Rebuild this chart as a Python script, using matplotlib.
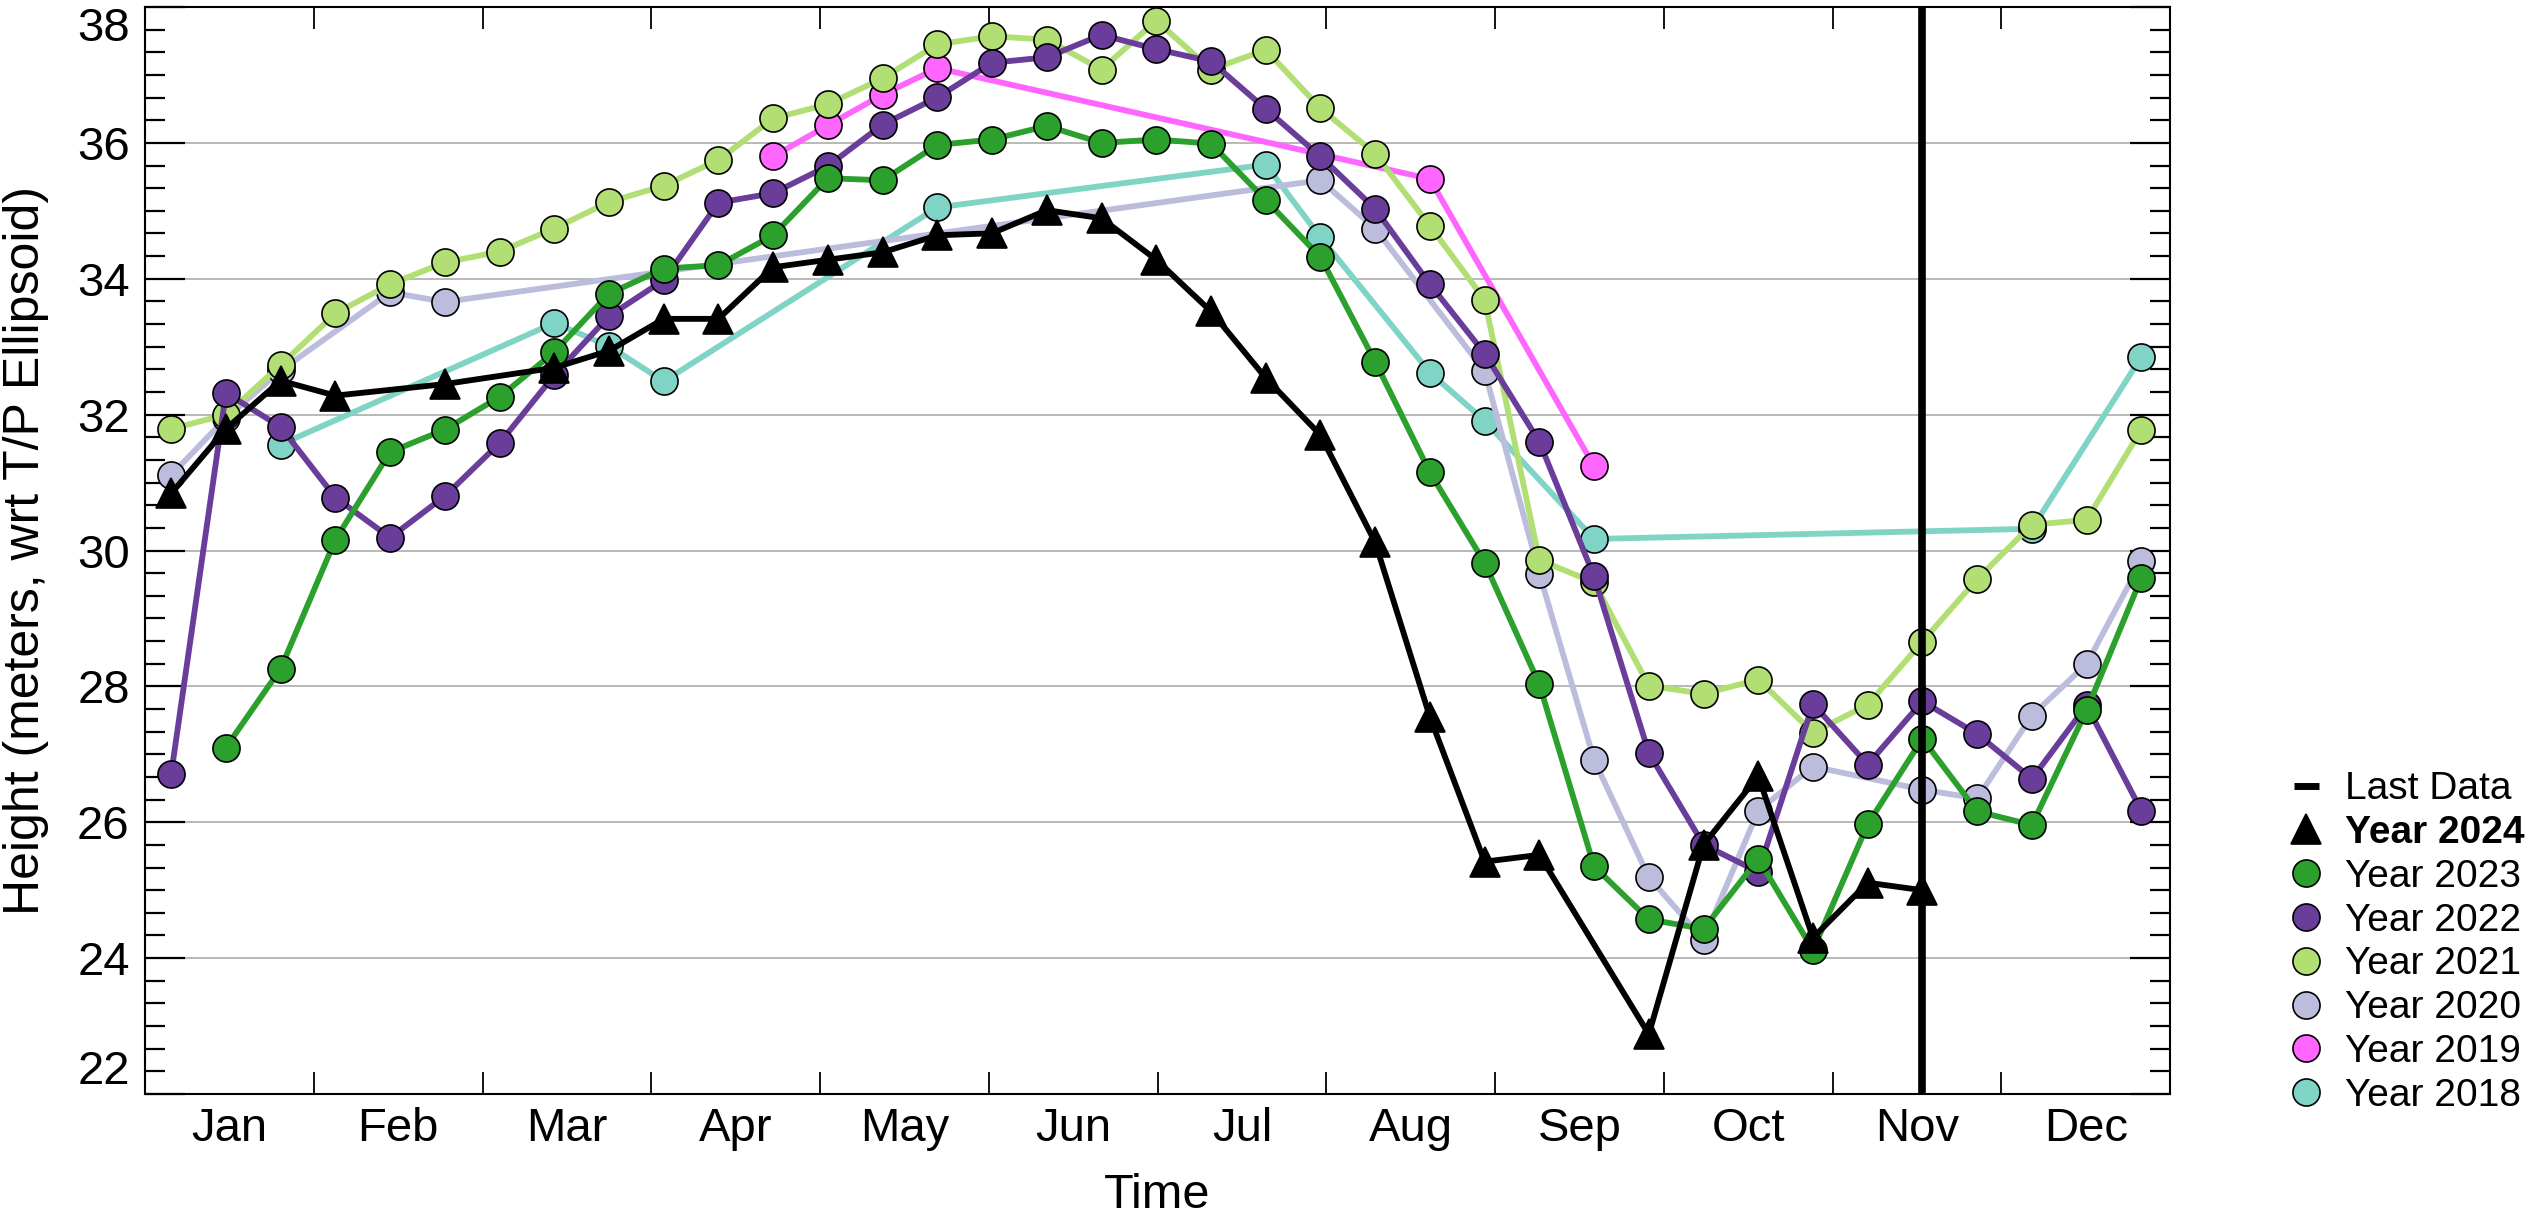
import numpy as np
import matplotlib
matplotlib.use('Agg')
import matplotlib.pyplot as plt
from matplotlib.lines import Line2D
from matplotlib.ticker import MultipleLocator, FixedLocator, NullFormatter

plt.rcParams['font.family'] = ['Liberation Sans', 'DejaVu Sans']

nan = np.nan

# ~10-day altimetry cycles; position of each cycle in "month" units
CYCLE_START = 0.155
CYCLE_STEP = 0.3243
N_CYCLES = 37

months = ['Jan', 'Feb', 'Mar', 'Apr', 'May', 'Jun', 'Jul', 'Aug', 'Sep', 'Oct', 'Nov', 'Dec']
y_ticks = [22, 24, 26, 28, 30, 32, 34, 36, 38]

y2024 = [30.84, 31.79, 32.50, 32.28, nan, 32.45, nan, 32.69, 32.94, 33.41, 33.41, 34.17, 34.28,
         34.39, 34.64, 34.67, 35.01, 34.89, 34.28, 33.52, 32.54, 31.70, 30.12, 27.55, 25.42, 25.52,
         nan, 22.88, 25.67, 26.68, 24.30, 25.11, 25.00, nan, nan, nan, nan]
y2023 = [nan, 27.10, 28.26, 30.16, 31.45, 31.78, 32.26, 32.92, 33.78, 34.15, 34.20, 34.64, 35.48,
         35.45, 35.97, 36.05, 36.25, 36.00, 36.05, 35.99, 35.16, 34.32, 32.78, 31.15, 29.82, 28.03,
         25.35, 24.57, 24.43, 25.46, 24.12, 25.97, 27.23, 26.16, 25.96, 27.65, 29.60]
y2022 = [26.71, 32.32, 31.82, 30.78, 30.19, 30.80, 31.58, 32.58, 33.45, 33.98, 35.12, 35.26, 35.66,
         36.27, 36.67, 37.18, 37.26, 37.59, 37.38, 37.20, 36.50, 35.80, 35.03, 33.92, 32.90, 31.60,
         29.62, 27.02, 25.67, 25.27, 27.74, 26.85, 27.78, 27.30, 26.64, 27.72, 26.17]
y2021 = [31.79, 32.00, 32.73, 33.49, 33.92, 34.24, 34.40, 34.74, 35.13, 35.37, 35.75, 36.36, 36.57,
         36.95, 37.45, 37.57, 37.52, 37.08, 37.80, 37.08, 37.37, 36.51, 35.84, 34.78, 33.69, 29.86,
         29.53, 28.01, 27.89, 28.10, 27.32, 27.73, 28.66, 29.58, 30.38, 30.45, 31.78]
y2020 = [31.11, 31.95, 32.65, nan, 33.80, 33.66, nan, nan, nan, nan, nan, nan, nan,
         nan, nan, nan, nan, nan, nan, nan, nan, 35.45, 34.74, nan, 32.64, 29.66,
         26.92, 25.19, 24.27, 26.17, 26.82, nan, 26.48, 26.35, 27.57, 28.33, 29.84]
y2019 = [nan, nan, nan, nan, nan, nan, nan, nan, nan, nan, nan, 35.80, 36.26,
         36.71, 37.10, nan, nan, nan, nan, nan, nan, nan, nan, 35.47, nan, nan,
         31.24, nan, nan, nan, nan, nan, nan, nan, nan, nan, nan]
y2018 = [nan, nan, 31.56, nan, nan, nan, nan, 33.35, 33.01, 32.49, nan, nan, nan,
         nan, 35.05, nan, nan, nan, nan, nan, 35.68, 34.61, nan, 32.62, 31.91, nan,
         30.17, nan, nan, nan, nan, nan, nan, nan, 30.32, nan, 32.85]

years = ['Year 2024', 'Year 2023', 'Year 2022', 'Year 2021', 'Year 2020', 'Year 2019', 'Year 2018']
series = [y2024, y2023, y2022, y2021, y2020, y2019, y2018]
colors = ['#000000', '#2ca02c', '#6a3d9a', '#b2df74', '#bcbddc', '#ff66ff', '#80d4c6']
markers = ['^', 'o', 'o', 'o', 'o', 'o', 'o']

x_cyc = CYCLE_START + CYCLE_STEP * np.arange(N_CYCLES)

fig = plt.figure(figsize=(25.31, 12.13), dpi=100)
ax = fig.add_axes([0.0573, 0.0981, 0.8001, 0.8961])

n = len(series)
for i in range(n - 1, -1, -1):
    y = np.asarray(series[i], dtype=float)
    m = ~np.isnan(y)
    ax.plot(x_cyc[m], y[m], color=colors[i], lw=4.2, marker=markers[i],
            ms=19.5 if markers[i] == 'o' else 21, mfc=colors[i], mec='black', mew=1.2,
            zorder=3 + (n - i))

# last available 2024 sample
y_last = np.asarray(y2024, dtype=float)
last_x = x_cyc[np.where(~np.isnan(y_last))[0][-1]]
ax.axvline(last_x, color='black', lw=5.5, zorder=20)

ax.xaxis.set_major_locator(FixedLocator(np.arange(0, 13)))
ax.xaxis.set_major_formatter(NullFormatter())
ax.xaxis.set_minor_locator(FixedLocator(np.arange(12) + 0.5))
ax.set_xticklabels(months, minor=True)
ax.set_yticks(y_ticks)
ax.set_yticklabels([str(t) for t in y_ticks])
ax.yaxis.set_minor_locator(MultipleLocator(1 / 3))

ax.set_xlim(0, 12)
ax.set_ylim(y_ticks[0], y_ticks[-1])

ax.tick_params(axis='x', which='major', direction='in', length=16, width=1.3, top=True, bottom=True)
ax.tick_params(axis='x', which='minor', length=0, labelsize=34, pad=9)
ax.tick_params(axis='y', which='major', direction='in', length=29, width=1.6, left=True, right=True,
               labelsize=34, pad=11)
ax.tick_params(axis='y', which='minor', direction='in', length=14.5, width=1.6, left=True, right=True)

ax.grid(axis='y', which='major', color='#b3b3b3', lw=1.3, zorder=0)
for s in ax.spines.values():
    s.set_linewidth(1.5)

# keep the end labels inside the figure, as in the original
fig.canvas.draw()
for tick in ax.yaxis.get_major_ticks():
    if tick.get_loc() == y_ticks[-1]:
        tick.label1.set_va('top')
    elif tick.get_loc() == y_ticks[0]:
        tick.label1.set_va('bottom')

ax.set_xlabel('Time', fontsize=35, labelpad=16)
ax.set_ylabel('Height (meters, wrt T/P Ellipsoid)', fontsize=36, labelpad=20)

handles = [Line2D([], [], ls='none', marker='_', color='black', ms=18, mew=5)]
for i in range(n):
    handles.append(Line2D([], [], ls='none', marker=markers[i], ms=19.5 if markers[i] == 'o' else 21,
                          mfc=colors[i], mec='black', mew=1.2))
labels = ['Last Data'] + years
leg = fig.legend(handles, labels, loc='center left', bbox_to_anchor=(0.905, 0.223), frameon=False,
                 fontsize=28, handlelength=0.8, handletextpad=0.6, labelspacing=0.2,
                 borderpad=0, borderaxespad=0)
leg.get_texts()[1].set_fontweight('bold')

fig.savefig('out.png', dpi=100)
